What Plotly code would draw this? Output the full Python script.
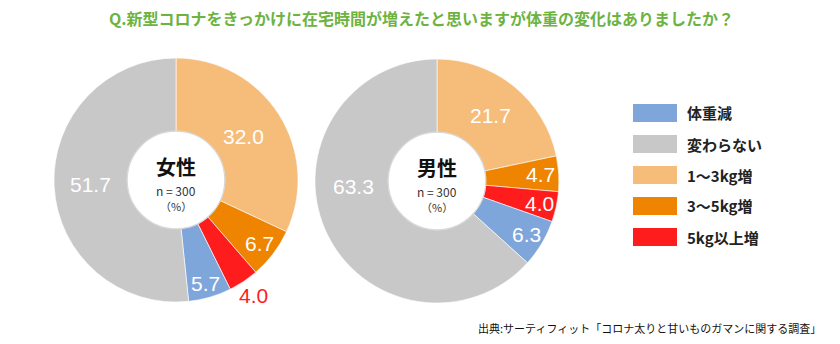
import math
import plotly.graph_objects as go

# Survey categories (clockwise from 12 o'clock) and results in percent
categories = ["1～3kg増", "3～5kg増", "5kg以上増", "体重減", "変わらない"]
female_values = [32.0, 6.7, 4.0, 5.7, 51.7]
male_values = [21.7, 4.7, 4.0, 6.3, 63.3]

# Legend order
legend_order = ["体重減", "変わらない", "1～3kg増", "3～5kg増", "5kg以上増"]

colors = {
    "体重減": "#7FA6DB",
    "変わらない": "#C8C8C8",
    "1～3kg増": "#F6BC7A",
    "3～5kg増": "#EE8400",
    "5kg以上増": "#FF1C1C",
}

W, H = 840, 344
JP = "Noto Sans CJK JP"
NUM = "Liberation Sans"

# pie geometry in pixels: center x, center y, radius
pies = [
    dict(name="女性", values=female_values, cx=176, cy=180, r=122,
         lab_r=[0.66, 0.86, 1.14, 0.88, 0.70], lab_da=[0, 0, 0, 0, 0],
         lab_col=["white", "white", "#FF1C1C", "white", "white"]),
    dict(name="男性", values=male_values, cx=437, cy=181, r=122,
         lab_r=[0.69, 0.85, 0.86, 0.85, 0.69], lab_da=[0, 0, 0, 0, 20],
         lab_col=["white", "white", "white", "white", "white"]),
]
HOLE = 0.40

fig = go.Figure()
annotations = []
shapes = []


def px(x):
    return x / W


def py(y):
    return 1 - y / H


for p in pies:
    cx, cy, r = p["cx"], p["cy"], p["r"]
    fig.add_trace(go.Pie(
        labels=categories,
        values=p["values"],
        marker=dict(colors=[colors[c] for c in categories],
                    line=dict(color="rgba(255,255,255,0.6)", width=1)),
        sort=False,
        direction="clockwise",
        rotation=0,
        hole=HOLE,
        textinfo="none",
        showlegend=False,
        domain=dict(x=[px(cx - r), px(cx + r)], y=[py(cy + r), py(cy - r)]),
    ))
    # value labels at slice mid-angles
    total = sum(p["values"])
    cum = 0.0
    for i, v in enumerate(p["values"]):
        mid = (cum + v / 2) / total * 360 + p["lab_da"][i]
        cum += v
        rr = p["lab_r"][i] * r
        lx = cx + rr * math.sin(math.radians(mid))
        ly = cy - rr * math.cos(math.radians(mid))
        annotations.append(dict(
            x=px(lx), y=py(ly), xref="paper", yref="paper",
            text=f"{v:.1f}", showarrow=False,
            font=dict(family=NUM, size=21, color=p["lab_col"][i]),
            xanchor="center", yanchor="middle",
        ))
    # hole outline
    hr = HOLE * r
    shapes.append(dict(type="circle", xref="paper", yref="paper",
                       x0=px(cx - hr), x1=px(cx + hr), y0=py(cy + hr), y1=py(cy - hr),
                       line=dict(color="#D8D8D8", width=1.2)))
    # center captions
    annotations.append(dict(x=px(cx), y=py(cy - 14), xref="paper", yref="paper",
                            text=f"<b>{p['name']}</b>", showarrow=False,
                            font=dict(family=JP, size=20, color="#111111"),
                            xanchor="center", yanchor="middle"))
    annotations.append(dict(x=px(cx), y=py(cy + 10), xref="paper", yref="paper",
                            text="n = 300", showarrow=False,
                            font=dict(family=JP, size=12, color="#333333"),
                            xanchor="center", yanchor="middle"))
    annotations.append(dict(x=px(cx), y=py(cy + 26), xref="paper", yref="paper",
                            text="（%）", showarrow=False,
                            font=dict(family=JP, size=11, color="#333333"),
                            xanchor="center", yanchor="middle"))

# legend boxes and labels
leg_x, leg_y0, leg_dy = 633, 113, 31
for k, c in enumerate(legend_order):
    yc = leg_y0 + k * leg_dy
    shapes.append(dict(type="rect", xref="paper", yref="paper",
                       x0=px(leg_x), x1=px(leg_x + 44), y0=py(yc + 9), y1=py(yc - 9),
                       fillcolor=colors[c], line=dict(width=0)))
    annotations.append(dict(x=px(leg_x + 52), y=py(yc), xref="paper", yref="paper",
                            text=f"<b>{c}</b>", showarrow=False,
                            font=dict(family=JP, size=15, color="#222222"),
                            xanchor="left", yanchor="middle"))

# title
annotations.append(dict(x=px(421), y=py(18), xref="paper", yref="paper",
                        text="<b>Q.新型コロナをきっかけに在宅時間が増えたと思いますが体重の変化はありましたか？</b>",
                        showarrow=False, font=dict(family=JP, size=16, color="#6DB33F"),
                        xanchor="center", yanchor="middle"))
# source
annotations.append(dict(x=px(823), y=py(328), xref="paper", yref="paper",
                        text="出典:サーティフィット「コロナ太りと甘いものガマンに関する調査」",
                        showarrow=False, font=dict(family=JP, size=11, color="#111111"),
                        xanchor="right", yanchor="middle"))

fig.update_layout(
    width=W, height=H,
    margin=dict(l=0, r=0, t=0, b=0),
    paper_bgcolor="white", plot_bgcolor="white",
    annotations=annotations, shapes=shapes,
)

fig.write_html("out.html")
